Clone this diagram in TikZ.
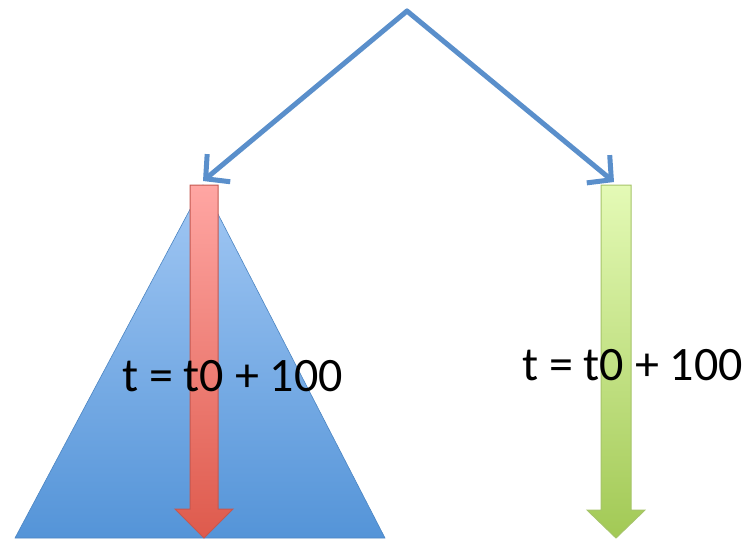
\documentclass[tikz,border=0pt]{standalone}
\usepackage{fontspec}
\setmainfont{Carlito}
\usetikzlibrary{arrows.meta}
\definecolor{lineblue}{HTML}{5A8FCB}
\definecolor{triTop}{HTML}{A2C8F4}
\definecolor{triBot}{HTML}{5494D8}
\definecolor{redTop}{HTML}{FFA6A3}
\definecolor{redBot}{HTML}{DE5A4C}
\definecolor{redEdge}{HTML}{C45850}
\definecolor{grnTop}{HTML}{E4FAB6}
\definecolor{grnBot}{HTML}{A2C955}
\definecolor{grnEdge}{HTML}{A6C46A}
\tikzset{
  conn/.style={draw=lineblue, line width=5pt, line cap=round, line join=round,
    -{Straight Barb[length=17pt,width=36pt,line width=5pt]}},
  lbl/.style={font=\fontsize{48}{52}\selectfont, inner sep=0pt, anchor=base},
}
\begin{document}
\begin{tikzpicture}[x=1pt,y=-1pt]
\useasboundingbox (0,0) rectangle (747,541);
% triangle
\path[top color=triTop, bottom color=triBot, draw=triBot!90!black, line width=0.6pt]
  (203,185) -- (385,538) -- (15,538) -- cycle;
% red arrow
\path[top color=redTop, bottom color=redBot, draw=redEdge, line width=1pt]
  (190,185) -- (218,185) -- (218,509) -- (233,509) -- (204,538) -- (175,509) -- (190,509) -- cycle;
% green arrow
\path[top color=grnTop, bottom color=grnBot, draw=grnEdge, line width=1pt]
  (601,185) -- (631,185) -- (631,510) -- (645,510) -- (616,538) -- (587,510) -- (601,510) -- cycle;
% connectors
\coordinate (apex) at (407,11);
\coordinate (lt) at (203,181);
\coordinate (rt) at (614,182);
\draw[conn] (apex) -- (lt);
\draw[conn] (apex) -- (rt);
% labels
\node[lbl] (l1) at (232.5,391) {t = t0 + 100};
\node[lbl] (l2) at (632.5,380) {t = t0 + 100};
\end{tikzpicture}
\end{document}
